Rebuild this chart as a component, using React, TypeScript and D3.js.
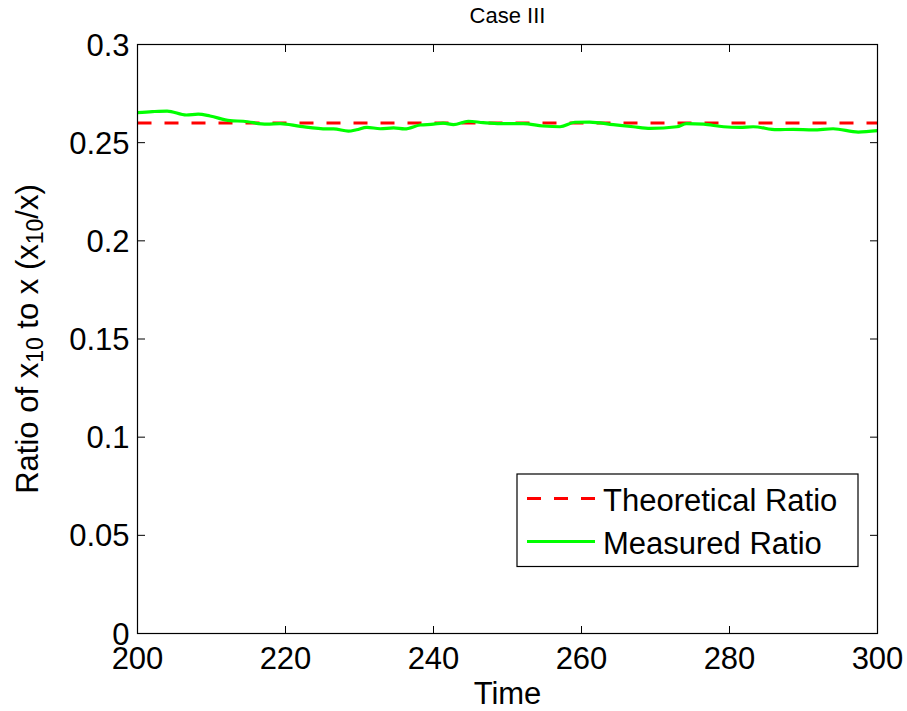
import React from "react";
import * as d3 from "d3";

const times = [200, 202, 204, 206.6, 208.2, 209.8, 212.5, 214.3, 217.5, 219.3, 222, 225.6, 226.5, 228.5, 229.6, 231, 232.8, 234.6, 236.1, 238.2, 240, 241.3, 242.7, 244.7, 246.7, 249, 252.1, 254.8, 257.1, 259.1, 261.1, 264.3, 267, 269.3, 272.9, 274.2, 276.5, 279.2, 281.4, 283.2, 286.4, 288.6, 291.3, 294, 297.4, 300];
const measured = [0.2653, 0.2658, 0.2661, 0.2641, 0.2645, 0.2636, 0.2612, 0.2609, 0.2594, 0.2597, 0.2583, 0.257, 0.257, 0.2559, 0.2566, 0.2578, 0.2571, 0.2575, 0.257, 0.259, 0.2594, 0.26, 0.2592, 0.2609, 0.2602, 0.2597, 0.2597, 0.2585, 0.2581, 0.2604, 0.2605, 0.2592, 0.2581, 0.2573, 0.2581, 0.2597, 0.2594, 0.2581, 0.2578, 0.2581, 0.2566, 0.2568, 0.2565, 0.2571, 0.2554, 0.2561];
const theoretical = 0.26;
const xTicks = [200, 220, 240, 260, 280, 300];
const yTicks = [0, 0.05, 0.1, 0.15, 0.2, 0.25, 0.3];
const yTickLabels = ["0", "0.05", "0.1", "0.15", "0.2", "0.25", "0.3"];
const legendLabels = ["Theoretical Ratio", "Measured Ratio"];

const W = 907;
const H = 711;
const L = 137.5, R = 877.5, T = 44.5, B = 633.5;
const FONT = "'Liberation Sans', Arial, Helvetica, sans-serif";

export default function App() {
  const x = d3.scaleLinear().domain([200, 300]).range([L, R]);
  const y = d3.scaleLinear().domain([0, 0.3]).range([B, T]);
  const line = d3
    .line<number>()
    .x((_, i) => x(times[i]))
    .y((d) => y(d))
    .curve(d3.curveMonotoneX);
  const tickLen = 7.5;

  return (
    <svg
      width={W}
      height={H}
      style={{ position: "absolute", left: 0, top: 0, background: "#fff" }}
      fontFamily={FONT}
    >
      <rect x={0} y={0} width={W} height={H} fill="#fff" />
      {/* data */}
      <line
        x1={x(200)}
        x2={x(300)}
        y1={y(theoretical)}
        y2={y(theoretical)}
        stroke="#ff0000"
        strokeWidth={3}
        strokeDasharray="14,13"
      />
      <path d={line(measured) || ""} fill="none" stroke="#00ff00" strokeWidth={3.2} strokeLinejoin="round" />

      {/* axes box */}
      <rect x={L} y={T} width={R - L} height={B - T} fill="none" stroke="#000" strokeWidth={1.2} />
      {xTicks.map((t) => (
        <g key={"xt" + t}>
          <line x1={x(t)} x2={x(t)} y1={B} y2={B - tickLen} stroke="#000" strokeWidth={1} />
          <line x1={x(t)} x2={x(t)} y1={T} y2={T + tickLen} stroke="#000" strokeWidth={1} />
          <text x={x(t)} y={669} fontSize={31} textAnchor="middle" fill="#000">
            {t}
          </text>
        </g>
      ))}
      {yTicks.map((v, i) => (
        <g key={"yt" + v}>
          <line x1={L} x2={L + tickLen} y1={y(v)} y2={y(v)} stroke="#000" strokeWidth={1} />
          <line x1={R} x2={R - tickLen} y1={y(v)} y2={y(v)} stroke="#000" strokeWidth={1} />
          <text x={129.5} y={y(v) + 11} fontSize={31} textAnchor="end" fill="#000">
            {yTickLabels[i]}
          </text>
        </g>
      ))}

      {/* title and labels */}
      <text x={(L + R) / 2} y={22.5} fontSize={22} textAnchor="middle" fill="#000">
        Case III
      </text>
      <text x={(L + R) / 2} y={704} fontSize={31} textAnchor="middle" fill="#000">
        Time
      </text>
      <text transform={`translate(38,${(T + B) / 2}) rotate(-90)`} fontSize={31} textAnchor="middle" fill="#000">
        <tspan>Ratio of x</tspan>
        <tspan fontSize={23} dy={5}>10</tspan>
        <tspan dy={-5}> to x (x</tspan>
        <tspan fontSize={23} dy={5}>10</tspan>
        <tspan dy={-5}>/x)</tspan>
      </text>

      {/* legend */}
      <rect x={517} y={474} width={858 - 517} height={566.5 - 474} fill="#fff" stroke="#000" strokeWidth={1.2} />
      <line x1={527} x2={595} y1={498.5} y2={498.5} stroke="#ff0000" strokeWidth={3} strokeDasharray="14,13" />
      <text x={603} y={510.5} fontSize={31} fill="#000">
        {legendLabels[0]}
      </text>
      <line x1={527} x2={595} y1={541.5} y2={541.5} stroke="#00ff00" strokeWidth={3} />
      <text x={603} y={553.5} fontSize={31} fill="#000">
        {legendLabels[1]}
      </text>
    </svg>
  );
}
